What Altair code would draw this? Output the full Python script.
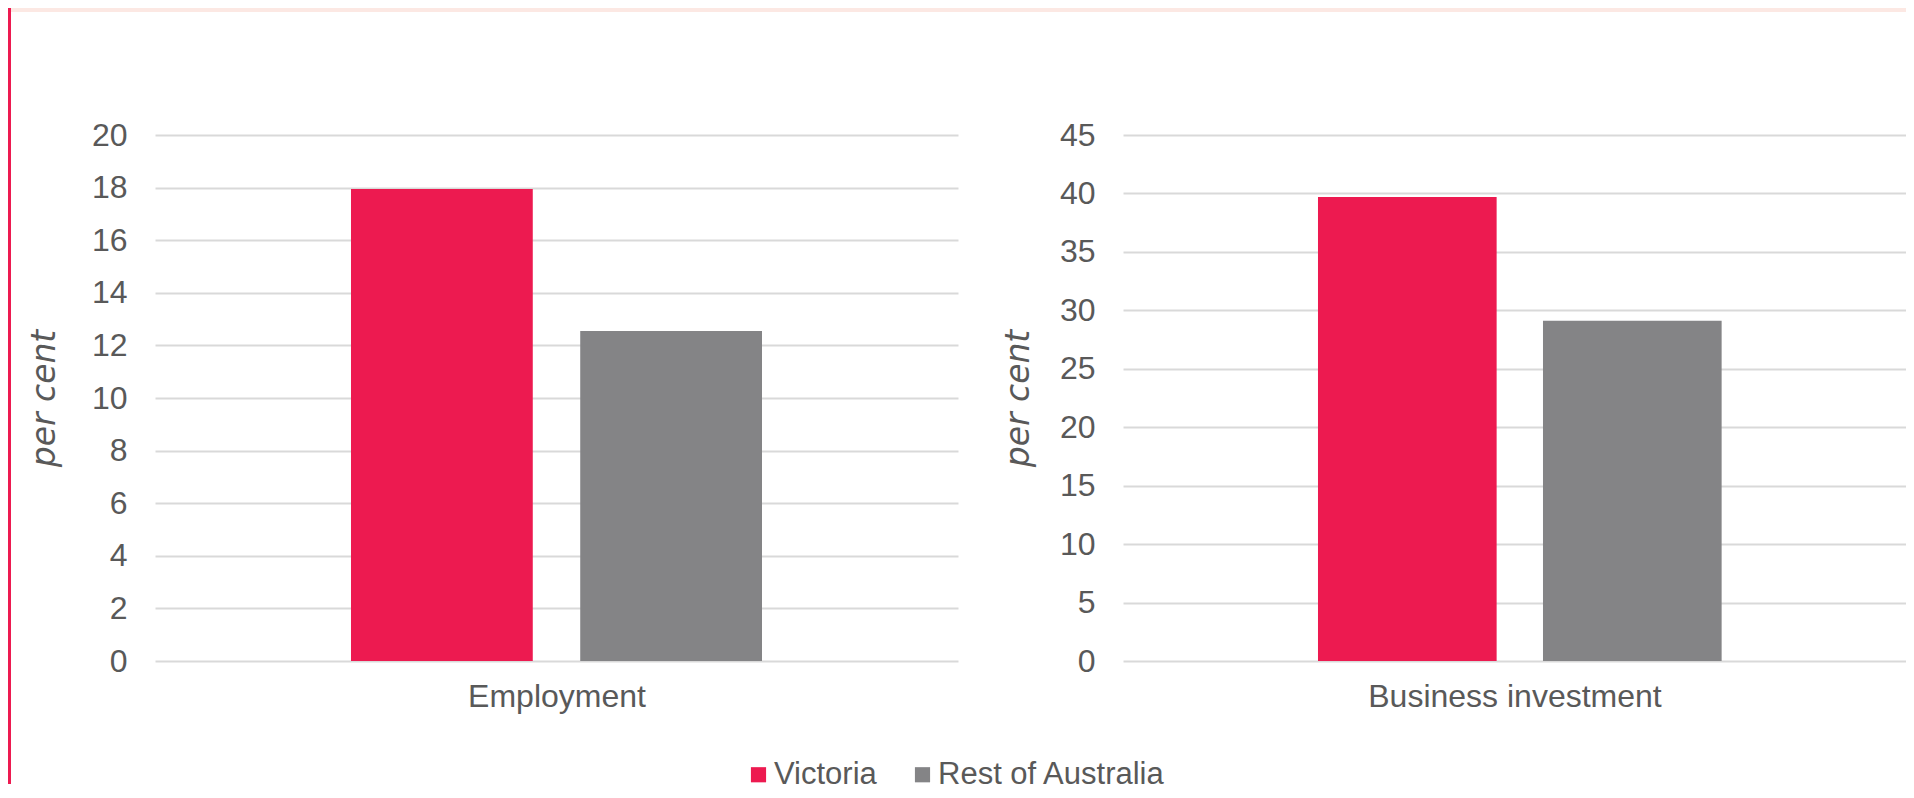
import altair as alt
import pandas as pd

# ---- data ----
series = ["Victoria", "Rest of Australia"]
employment = [17.95, 12.55]
business_investment = [39.7, 29.1]
panel_titles = ["Employment", "Business investment"]
left_ticks = [0, 2, 4, 6, 8, 10, 12, 14, 16, 18, 20]
right_ticks = [0, 5, 10, 15, 20, 25, 30, 35, 40, 45]
colors = ["#ED1A50", "#848486"]

TEXT = "#595959"
FONT = "Liberation Sans"
PLOT_H = 526
LEFT_W = 803
RIGHT_W = 783
GAP = 165


def panel(values, title, ticks, width, tpad, pin, pout, align, legend):
    df = pd.DataFrame({"series": series, "value": values})
    return alt.Chart(df).mark_bar().encode(
        x=alt.X(
            "series:N",
            sort=series,
            scale=alt.Scale(domain=series, paddingInner=pin, paddingOuter=pout, align=align),
            axis=alt.Axis(labels=False, ticks=False, domain=False, grid=False,
                          title=title, titlePadding=20),
        ),
        y=alt.Y(
            "value:Q",
            scale=alt.Scale(domain=[ticks[0], ticks[-1]], nice=False),
            axis=alt.Axis(values=ticks, title="per cent", titlePadding=tpad,
                          labelPadding=28, ticks=False, domain=False,
                          titleFont="DejaVu Sans", titleFontStyle="italic",
                          titleFontSize=33),
        ),
        color=alt.Color("series:N", sort=series,
                        scale=alt.Scale(domain=series, range=colors),
                        legend=legend),
    ).properties(width=width, height=PLOT_H)


legend = alt.Legend(
    title=None, orient="none", direction="horizontal",
    legendX=588, legendY=624, symbolType="square", symbolSize=230,
    symbolStrokeWidth=0, labelFontSize=31, labelColor=TEXT, labelFont=FONT,
    labelOffset=0, labelLimit=0, columnPadding=30, padding=0,
)

left_bars = panel(employment, panel_titles[0], left_ticks, LEFT_W, 30,
                  0.207, 0.855, 0.5, legend)
right_bars = panel(business_investment, panel_titles[1], right_ticks, RIGHT_W, 24,
                   0.206, 0.843, 0.514, legend)

deco = pd.DataFrame({"k": [0]})
total_right = LEFT_W + GAP + RIGHT_W
band = alt.Chart(deco).mark_rect(color="#FCE8E3").encode(
    x=alt.value(-147), x2=alt.value(total_right), y=alt.value(-127), y2=alt.value(-123)
)
side_line = alt.Chart(deco).mark_rect(color="#ED1A50").encode(
    x=alt.value(-147), x2=alt.value(-144), y=alt.value(-127), y2=alt.value(649)
)

left = alt.layer(band, side_line, left_bars)

chart = alt.hconcat(left, right_bars, spacing=GAP, bounds="flush").resolve_scale(
    x="independent", y="independent", color="shared"
).properties(padding=0, background="white").configure_view(
    stroke=None
).configure_axis(
    labelFont=FONT, labelFontSize=32, labelColor=TEXT,
    titleFont=FONT, titleFontSize=32, titleColor=TEXT, titleFontWeight="normal",
    gridColor="#D9D9D9", gridWidth=2,
)

chart.save("out.html", embed_options={"renderer": "svg", "actions": False})
